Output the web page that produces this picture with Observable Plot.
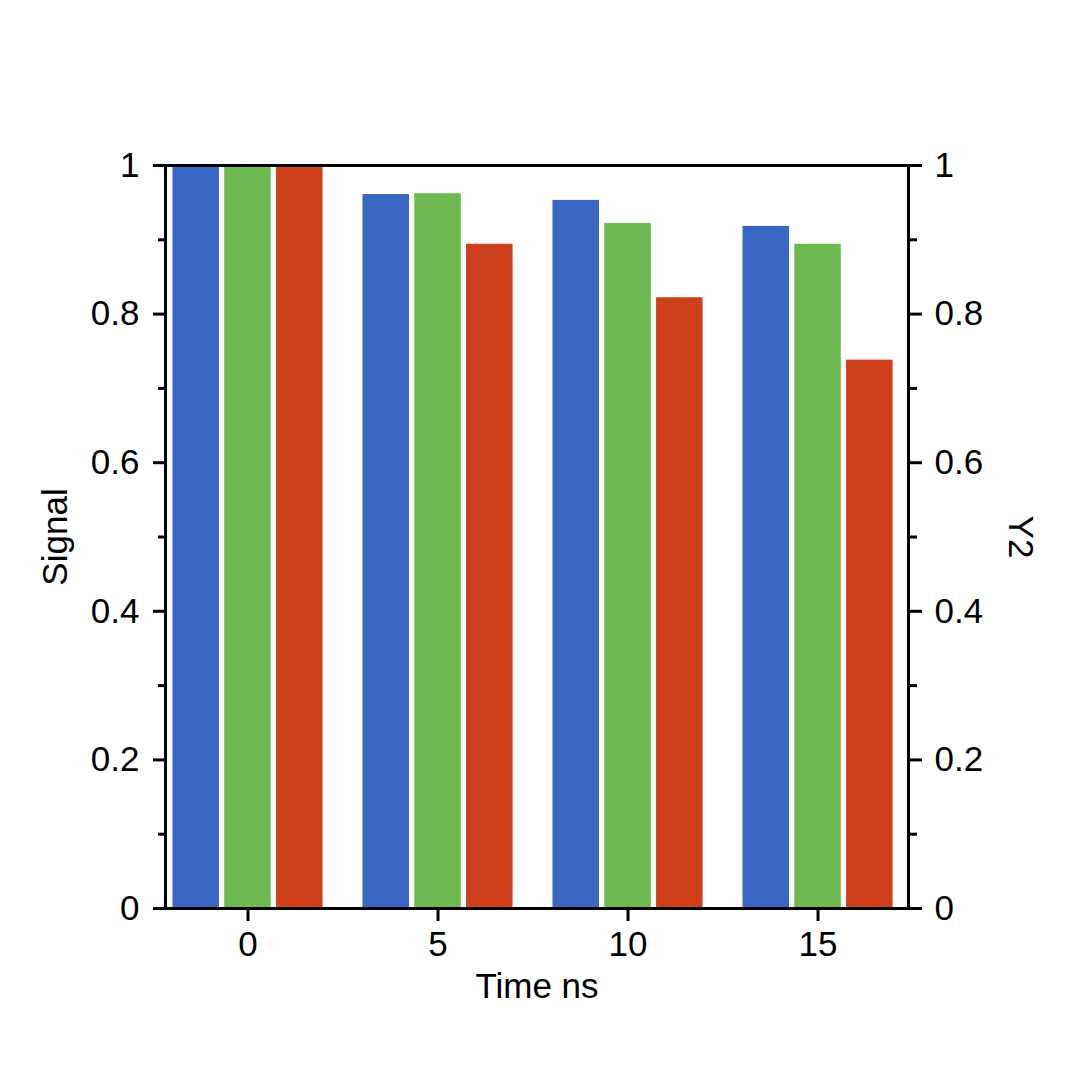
<!DOCTYPE html>
<html>
<head>
<meta charset="utf-8">
<script src="https://cdn.jsdelivr.net/npm/d3@7"></script>
<script src="https://cdn.jsdelivr.net/npm/@observablehq/plot@0.6"></script>
<style>
  html, body { margin: 0; padding: 0; background: #fff; }
  #chart { width: 1076px; height: 1070px; }
</style>
</head>
<body>
<div id="chart"></div>
<script>
// ---- data ----
const times = [0, 5, 10, 15];
const seriesNames = ["Series 1", "Series 2", "Series 3"];
const seriesBlue  = [1.000, 0.961, 0.953, 0.918];
const seriesGreen = [1.000, 0.962, 0.922, 0.894];
const seriesRed   = [1.000, 0.894, 0.822, 0.738];
const yMajorTicks = [0, 0.2, 0.4, 0.6, 0.8, 1];
const yMinorTicks = [0.1, 0.3, 0.5, 0.7, 0.9];
const xTicks = [0, 5, 10, 15];
const xLabel = "Time ns";
const yLabel = "Signal";
const y2Label = "Y2";

// ---- layout ----
const colors = ["#3a66c4", "#6bb94f", "#ce3f1b"];
const offsets = [-1.363, 0, 1.363];
const barW = 1.224;
const seriesValues = [seriesBlue, seriesGreen, seriesRed];
const fs = 35;

const rows = [];
seriesValues.forEach((vals, i) => {
  vals.forEach((v, j) => rows.push({ t: times[j], s: seriesNames[i], i, v }));
});

const font = "'Liberation Sans', Arial, Helvetica, sans-serif";
const fmt = d => String(+d.toFixed(1));

const chart = Plot.plot({
  width: 1076,
  height: 1070,
  marginLeft: 165,
  marginRight: 168,
  marginTop: 165,
  marginBottom: 162,
  style: { fontFamily: font, fontSize: fs + "px", background: "#fff", color: "#000" },
  x: { type: "linear", domain: [-2.171, 17.38] },
  y: { domain: [0, 1] },
  color: { domain: seriesNames, range: colors },
  marks: [
    Plot.rectY(rows, {
      x1: d => d.t + offsets[d.i] - barW / 2,
      x2: d => d.t + offsets[d.i] + barW / 2,
      y1: 0,
      y2: "v",
      fill: "s"
    }),
    Plot.frame({ stroke: "#000", strokeWidth: 3 }),
    Plot.axisY(yMajorTicks, { anchor: "left", tickSize: 12, tickPadding: 14, strokeWidth: 3, tickFormat: fmt, fontSize: fs, label: null }),
    Plot.axisY(yMinorTicks, { anchor: "left", tickSize: 7, strokeWidth: 3, tickFormat: () => "", label: null }),
    Plot.axisY(yMajorTicks, { anchor: "right", tickSize: 13, tickPadding: 13, strokeWidth: 3, tickFormat: fmt, fontSize: fs, label: null }),
    Plot.axisY(yMinorTicks, { anchor: "right", tickSize: 8, strokeWidth: 3, tickFormat: () => "", label: null }),
    Plot.axisX(xTicks, { anchor: "bottom", tickSize: 13, tickPadding: 10, strokeWidth: 3, tickFormat: d => String(d), fontSize: fs, label: null }),
    Plot.text([yLabel], { frameAnchor: "left", textAnchor: "middle", lineAnchor: "middle", dx: -110, rotate: -90, fontSize: fs, text: d => d }),
    Plot.text([y2Label], { frameAnchor: "right", textAnchor: "middle", lineAnchor: "middle", dx: 112, rotate: 90, fontSize: fs, text: d => d }),
    Plot.text([xLabel], { frameAnchor: "bottom", textAnchor: "middle", lineAnchor: "middle", dy: 78, fontSize: fs, text: d => d })
  ]
});
document.getElementById("chart").appendChild(chart);
</script>
</body>
</html>
